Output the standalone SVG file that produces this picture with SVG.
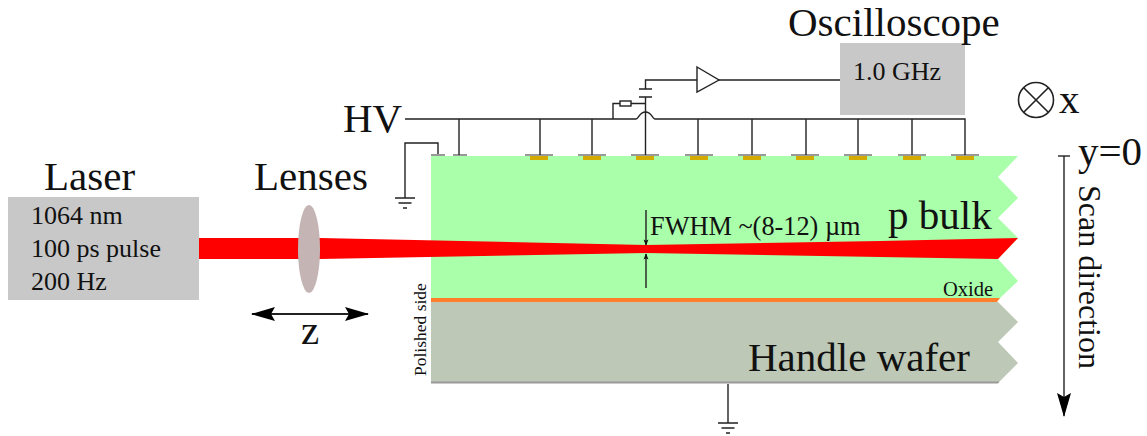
<svg xmlns="http://www.w3.org/2000/svg" width="1147" height="436" viewBox="0 0 1147 436">
<style>
text{font-family:"Liberation Serif","Times New Roman",serif;fill:#111}
.w{fill:none;stroke:#222;stroke-width:1.4}
.g{fill:#999}
.a{fill:#d4a900}
.big{font-size:41px}
.mid{font-size:26px}
.box{fill:#c8c8c8}
</style>
<defs>
<marker id="bar" viewBox="0 0 10 10" refX="8" refY="5" markerWidth="7" markerHeight="7" orient="auto-start-reverse" markerUnits="userSpaceOnUse"><path d="M0 1.5L9 5L0 8.500L2 5Z" fill="#111"/></marker>
<marker id="stealth" viewBox="0 0 24 24" refX="23" refY="12" markerWidth="24" markerHeight="24" orient="auto-start-reverse" markerUnits="userSpaceOnUse"><path d="M0 5L24 12L0 19L4 12Z" fill="#000"/></marker>
<g id="gnd"><path class="w" d="M-10 0H10M-6.500 5H6.500M-2 10H2"/></g>
</defs>

<g id="laser"><rect class="box" x="8" y="197" width="191" height="103"/>
<text class="big" x="44" y="190">Laser</text>
<text class="mid" x="31" y="224">1064 nm</text>
<text class="mid" x="31" y="257">100 ps pulse</text>
<text class="mid" x="31" y="290">200 Hz</text></g>

<g id="p-bulk"><path fill="#aaffaa" d="M431 156H1018L998 177L1018 198L998 218L1018 238L998 259L1018 281L999 299H431Z"/>
<text class="big" x="888" y="229">p bulk</text>
<text font-size="20.500" x="943" y="296">Oxide</text></g>

<g id="oxide"><path fill="#ff7f2a" d="M431 298H1000L997 302H431Z"/></g>

<g id="handle-wafer"><path fill="#bdc8b6" d="M431 302H998L1018 322L998 342L1018 363L998 383H431Z"/>
<path fill="#999" d="M431 381.500H999.500L998 383.500H431Z"/>
<text class="big" x="748" y="371">Handle wafer</text>
<text font-size="17.500" transform="translate(426 376) rotate(-90)">Polished side</text></g>

<g id="beam"><path fill="#f00" d="M199 238H320L646 245L880 241L1018 238L998 259L880 257L646 253L320 259H199Z"/></g>

<g id="lens"><ellipse cx="309" cy="249" rx="11" ry="44" fill="#c4b4b4"/>
<text class="big" x="254" y="190">Lenses</text>
<text class="big" x="301" y="344">z</text></g>

<g id="electrodes">
<rect class="g" x="431" y="154" width="14" height="2"/><rect class="g" x="453" y="154" width="14" height="2"/>
<rect class="g" x="525" y="154" width="28" height="2"/><rect class="a" x="530" y="156" width="18" height="4"/>
<rect class="g" x="578" y="154" width="28" height="2"/><rect class="a" x="583" y="156" width="18" height="4"/>
<rect class="g" x="631" y="154" width="28" height="2"/><rect class="a" x="636" y="156" width="18" height="4"/>
<rect class="g" x="685" y="154" width="28" height="2"/><rect class="a" x="690" y="156" width="18" height="4"/>
<rect class="g" x="738" y="154" width="28" height="2"/><rect class="a" x="743" y="156" width="18" height="4"/>
<rect class="g" x="791" y="154" width="28" height="2"/><rect class="a" x="796" y="156" width="18" height="4"/>
<rect class="g" x="844" y="154" width="28" height="2"/><rect class="a" x="849" y="156" width="18" height="4"/>
<rect class="g" x="898" y="154" width="28" height="2"/><rect class="a" x="903" y="156" width="18" height="4"/>
<rect class="g" x="951" y="154" width="28" height="2"/><rect class="a" x="956" y="156" width="18" height="4"/>
</g>

<g id="oscilloscope"><rect class="box" x="840" y="43" width="125" height="72"/>
<text class="big" x="788" y="36">Oscilloscope</text>
<text class="mid" x="853" y="80">1.0 GHz</text></g>

<g id="amplifier"><path class="w" fill="#fff" d="M697 67L719 80L697 92Z"/></g>
<g id="resistor"><rect class="w" x="620" y="101" width="11" height="5"/></g>
<g id="capacitor"><path class="w" d="M639 89H652M639 97H652"/></g>
<g id="hv"><text class="big" x="343" y="132">HV</text></g>
<g id="x-axis"><circle class="w" cx="1036" cy="100" r="17.500" style="stroke-width:1.600"/><path class="w" d="M1023.700 87.700L1048.300 112.300M1048.300 87.700L1023.700 112.300" style="stroke-width:1.600"/>
<text class="big" x="1059" y="113">x</text></g>
<g id="scan"><text class="big" x="1078" y="165">y=0</text>
<text font-size="32" transform="translate(1079 185) rotate(90)">Scan direction</text></g>
<g id="fwhm"><text font-size="26.300" x="650" y="235">FWHM ~(8-12) µm</text></g>

<g id="connectors">
<path class="w" d="M405 119H636C639 119 639 112 645.500 112C652 112 652 119 655 119H965V155"/>
<path class="w" d="M459 119V155M540 119V155M592 119V155M698 119V155M752 119V155M806 119V155M858 119V155M912 119V155"/>
<path class="w" d="M645.500 97V155M645.500 89V80H697M719 80H840"/>
<path class="w" d="M613 119V103.500H620M631 103.500H645.500"/>
<path class="w" d="M438 154V143H405V198"/>
<use href="#gnd" x="405" y="198"/>
<path class="w" d="M728 384V423"/>
<use href="#gnd" x="728" y="423"/>
<path class="w" d="M1058 156H1070"/>
<path class="w" d="M1064 156V416" marker-end="url(#stealth)"/>
<path class="w" style="stroke-width:1.800" d="M252 314H368" marker-start="url(#stealth)" marker-end="url(#stealth)"/>
<path class="w" d="M646 210V245" marker-end="url(#bar)"/>
<path class="w" d="M646 288V254" marker-end="url(#bar)"/>
</g>
</svg>
